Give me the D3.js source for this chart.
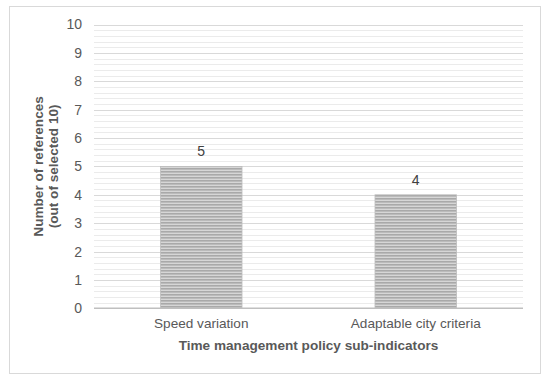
<!DOCTYPE html>
<html><head><meta charset="utf-8">
<script src="https://cdn.jsdelivr.net/npm/d3@7"></script>
<style>body{margin:0;background:#fff}svg{display:block;font-family:"Liberation Sans",Arial,sans-serif}</style>
</head><body>
<svg id="c" width="550" height="381"></svg>
<script>
const categories = ["Speed variation", "Adaptable city criteria"];
const values = [5, 4];
const yTicks = [0,1,2,3,4,5,6,7,8,9,10];
const xTitle = "Time management policy sub-indicators";
const yTitle = ["Number of references", "(out of selected 10)"];

const svg = d3.select("#c");
const m = {l:94, r:27, t:24.5, b:72.7};
const W = 550, H = 381;
const x = d3.scaleBand().domain(categories).range([m.l, W-m.r]).paddingInner(0.62).paddingOuter(0.31);
const y = d3.scaleLinear().domain([0,10]).range([H-m.b, m.t]);

svg.append("rect").attr("x",9.5).attr("y",6.5).attr("width",531).attr("height",367)
  .attr("fill","#fff").attr("stroke","#d9d9d9").attr("stroke-width",1);

const defs = svg.append("defs");
const pat = defs.append("pattern").attr("id","stripes").attr("patternUnits","userSpaceOnUse")
  .attr("width",4).attr("height",3);
pat.append("rect").attr("width",4).attr("height",3).attr("fill","#d6d6d6");
pat.append("rect").attr("width",4).attr("height",1.6).attr("fill","#a9a9a9");

// minor gridlines
const minor = d3.range(0, 10.001, 0.2).filter(v => Math.abs(v - Math.round(v)) > 1e-6);
svg.append("g").selectAll("line").data(minor).join("line")
  .attr("x1", m.l).attr("x2", W-m.r)
  .attr("y1", d => Math.round(y(d))+0.5).attr("y2", d => Math.round(y(d))+0.5)
  .attr("stroke","#ebebeb").attr("stroke-width",1);
// major gridlines
svg.append("g").selectAll("line").data(yTicks.filter(d=>d>0)).join("line")
  .attr("x1", m.l).attr("x2", W-m.r)
  .attr("y1", d => Math.round(y(d))+0.5).attr("y2", d => Math.round(y(d))+0.5)
  .attr("stroke","#d9d9d9").attr("stroke-width",1);

// bars
svg.append("g").selectAll("rect").data(values).join("rect")
  .attr("x", (d,i) => x(categories[i]))
  .attr("y", d => y(d))
  .attr("width", x.bandwidth())
  .attr("height", d => y(0) - y(d))
  .attr("fill","url(#stripes)")
  .attr("stroke","#bdbdbd").attr("stroke-width",0.8);

// zero axis line
svg.append("line").attr("x1", m.l).attr("x2", W-m.r).attr("y1", y(0)).attr("y2", y(0))
  .attr("stroke","#bfbfbf").attr("stroke-width",1.6);

// value labels
svg.append("g").selectAll("text").data(values).join("text")
  .attr("x", (d,i) => x(categories[i]) + x.bandwidth()/2)
  .attr("y", d => y(d) - 10)
  .attr("text-anchor","middle").attr("font-size",14).attr("fill","#404040")
  .text(d => d);

// y tick labels
const yAxis = d3.axisLeft(y).tickValues(yTicks).tickSize(0).tickPadding(0);
const gy = svg.append("g").attr("transform", `translate(${82},0)`).call(yAxis);
gy.select(".domain").remove();
gy.selectAll("text").attr("font-size",14).attr("fill","#595959").attr("font-family","Liberation Sans, Arial, sans-serif");

// x category labels
const xAxis = d3.axisBottom(x).tickSize(0).tickPadding(0);
const gx = svg.append("g").attr("transform", `translate(0,${y(0)+10})`).call(xAxis);
gx.select(".domain").remove();
gx.selectAll("text").attr("font-size",13.6).attr("fill","#595959").attr("font-family","Liberation Sans, Arial, sans-serif");

// x title
svg.append("text").attr("x", (m.l + W - m.r)/2).attr("y", 349.5)
  .attr("text-anchor","middle").attr("font-size",13.6).attr("font-weight","bold").attr("fill","#595959")
  .text(xTitle);

// y title
const cy = (y(0)+y(10))/2;
const yt = svg.append("text").attr("transform", `translate(43,${cy}) rotate(-90)`)
  .attr("text-anchor","middle").attr("font-size",13.6).attr("font-weight","bold").attr("fill","#595959");
yt.selectAll("tspan").data(yTitle).join("tspan").attr("x",0).attr("dy",(d,i)=> i===0 ? 0 : 15).text(d=>d);
</script>
</body></html>
